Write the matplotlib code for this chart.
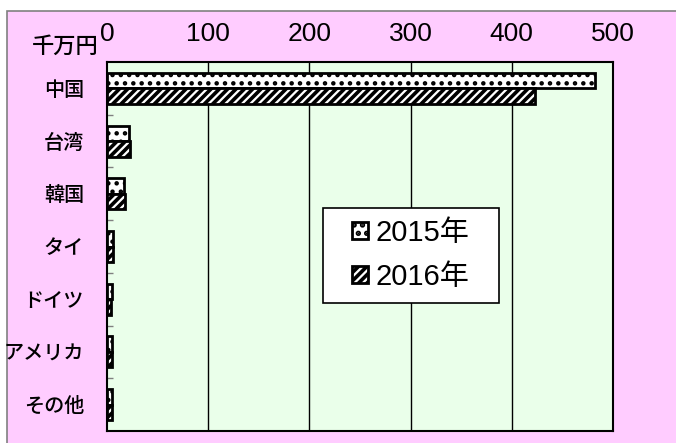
import matplotlib
matplotlib.use("Agg")
import matplotlib.pyplot as plt
from matplotlib.patches import Rectangle
import numpy as np

categories = ["中国", "台湾", "韓国", "タイ", "ドイツ", "アメリカ", "その他"]
values_2015 = [482, 22, 17, 6, 4.5, 5, 5]
values_2016 = [423, 23, 18, 5.5, 4, 4.5, 4.5]
series_labels = ["2015年", "2016年"]
x_ticks = [0, 100, 200, 300, 400, 500]
unit_label = "千万円"

FONTS = ["Liberation Sans", "Noto Sans CJK JP", "DejaVu Sans"]
plt.rcParams["font.family"] = FONTS
plt.rcParams["hatch.color"] = "black"

W, H = 676, 443
fig = plt.figure(figsize=(W / 100, H / 100), dpi=100)
fig.patch.set_facecolor("white")

# pink chart area
bg = Rectangle((7 / W, -0.01), 1.0, 1 - 11 / H + 0.01, transform=fig.transFigure,
               facecolor="#FFCCFF", edgecolor="#808080", linewidth=1.2, zorder=-5)
fig.add_artist(bg)

ax = fig.add_axes([107 / W, 1 - 431 / H, (613 - 107) / W, (431 - 62) / H])
ax.set_zorder(1)
ax.set_facecolor("#EAFFEA")

n = len(categories)
y = np.arange(n)
bh = 0.295
plt.rcParams["hatch.linewidth"] = 2.0
b1 = ax.barh(y - bh / 2, values_2015, height=bh, facecolor="white", edgecolor="black",
             linewidth=2, hatch="..", label=series_labels[0], zorder=3)
plt.rcParams["hatch.linewidth"] = 2.6
b2 = ax.barh(y + bh / 2, values_2016, height=bh, facecolor="white", edgecolor="black",
             linewidth=2, hatch="////", label=series_labels[1], zorder=3)

ax.set_xlim(0, 500)
ax.set_ylim(n - 0.5, -0.5)

ax.xaxis.tick_top()
ax.set_xticks(x_ticks)
ax.set_xticklabels([str(v) for v in x_ticks], fontsize=19)
ax.tick_params(axis="x", length=0, pad=11.8)
for v in x_ticks[1:-1]:
    ax.axvline(v, color="black", linewidth=1, zorder=1)

# category labels at centers, ticks at boundaries
ax.set_yticks(y)
ax.set_yticklabels(categories, fontsize=14.5, fontweight="medium")
ax.tick_params(axis="y", which="major", length=0, pad=16.5)
ax.set_yticks(np.arange(n - 1) + 0.5, minor=True)
ax.tick_params(axis="y", which="minor", direction="in", length=4.5, color="#808080", width=1)

for s in ax.spines.values():
    s.set_color("black")
    s.set_linewidth(1.5)

fig.text(65 / W, 1 - 47 / H, unit_label, fontsize=16, fontweight="medium",
         ha="center", va="center")

# legend frame (fixed box as in the original) and legend entries
ax_w, ax_h = 613 - 107, 431 - 62
frame = Rectangle(((323 - 107) / ax_w, (431 - 303) / ax_h), 176 / ax_w, 95 / ax_h,
                  transform=ax.transAxes, facecolor="white", edgecolor="black",
                  linewidth=1.2, zorder=5)
ax.add_patch(frame)
leg = ax.legend(loc="center", bbox_to_anchor=((411 - 107) / ax_w, (431 - 255) / ax_h),
                fontsize=21, frameon=False,
                handlelength=0.55, handleheight=0.55, handletextpad=0.25,
                borderpad=0.2, labelspacing=0.55)
leg.set_zorder(6)

fig.savefig("out.png", dpi=100)
